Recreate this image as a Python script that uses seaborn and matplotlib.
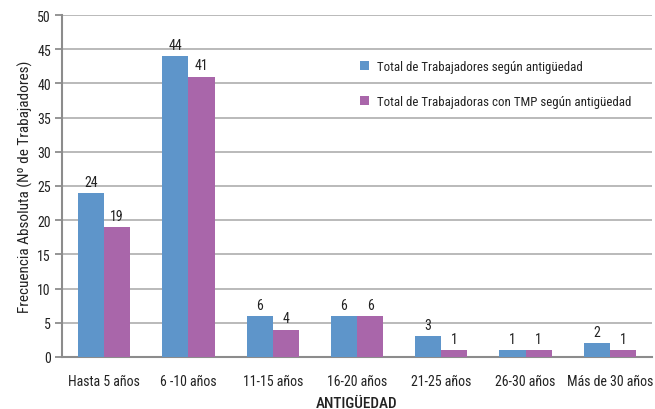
import matplotlib
matplotlib.use("Agg")
import matplotlib.pyplot as plt
import seaborn as sns
import pandas as pd

categorias = ["Hasta 5 años", "6 -10 años", "11-15 años", "16-20 años",
              "21-25 años", "26-30 años", "Más de 30 años"]
total_trabajadores = [24, 44, 6, 6, 3, 1, 2]
trabajadoras_tmp = [19, 41, 4, 6, 1, 1, 1]
series = ["Total de Trabajadores según antigüedad",
          "Total de Trabajadoras con TMP según antigüedad"]
colores = ["#5E95CA", "#A966AA"]

df = pd.DataFrame({
    "categoria": categorias * 2,
    "valor": total_trabajadores + trabajadoras_tmp,
    "serie": [series[0]] * len(categorias) + [series[1]] * len(categorias),
})

sns.set_theme(style="white")
plt.rcParams["font.family"] = ["Roboto Condensed", "DejaVu Sans"]

fs = 10
fig = plt.figure(figsize=(6.55, 4.10), dpi=100)
ax = fig.add_axes([62 / 655, 1 - 358 / 410, 590 / 655, 342 / 410])

sns.barplot(data=df, x="categoria", y="valor", hue="serie", order=categorias,
            hue_order=series, palette=colores, width=0.62, gap=0,
            saturation=1, linewidth=0, ax=ax, zorder=3)

for cont in ax.containers:
    ax.bar_label(cont, labels=[f"{v:g}" for v in cont.datavalues],
                 padding=3, fontsize=fs, color="#222222")

ax.set_ylim(0, 50)
ax.set_xlim(-0.5, 6.5)
ax.set_yticks(range(0, 51, 5))
ax.yaxis.grid(True, color="#b4b4b4", linewidth=1.3, zorder=0)
ax.set_axisbelow(True)
for s in ["top", "right"]:
    ax.spines[s].set_visible(False)
for s in ["left", "bottom"]:
    ax.spines[s].set_color("#8c8c8c")
    ax.spines[s].set_linewidth(1.5)
ax.tick_params(axis="y", left=True, length=5, width=1.3, color="#8c8c8c",
               labelsize=fs, labelcolor="#222222", pad=3)
ax.tick_params(axis="x", bottom=False, labelsize=fs, labelcolor="#222222", pad=6)

ax.set_xlabel("ANTIGÜEDAD", fontsize=11, fontweight="medium", color="#222222")
ax.xaxis.set_label_coords(0.5, (358 - 408) / 342)
ax.xaxis.label.set_verticalalignment("baseline")
ax.set_ylabel("Frecuencia Absoluta (Nº de Trabajadores)", fontsize=11,
              color="#222222", labelpad=3)

leg = ax.legend(loc="upper left", bbox_to_anchor=(0.497, 0.883), frameon=False,
                fontsize=9.3, handlelength=0.7, handleheight=0.7,
                handletextpad=0.6, labelspacing=1.7, borderaxespad=0)
for t in leg.get_texts():
    t.set_color("#222222")

fig.savefig("out.png", dpi=100)
